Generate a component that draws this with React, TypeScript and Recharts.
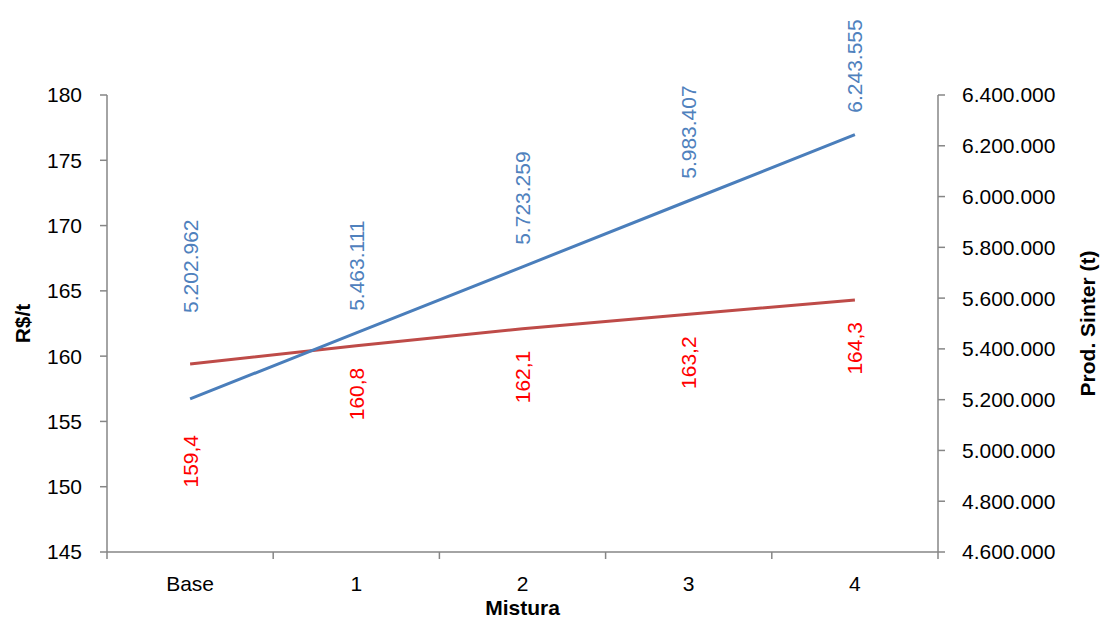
import React from 'react';
import { ComposedChart, Line, XAxis, YAxis, LabelList } from 'recharts';

const categories = ['Base', '1', '2', '3', '4'];
const custoRt = [159.4, 160.8, 162.1, 163.2, 164.3];
const prodSinter = [5202962, 5463111, 5723259, 5983407, 6243555];
const leftTicks = [145, 150, 155, 160, 165, 170, 175, 180];
const rightTicks = [4600000, 4800000, 5000000, 5200000, 5400000, 5600000, 5800000, 6000000, 6200000, 6400000];

// pos = category centre on the numeric grid axis (0..5 bands)
const data = categories.map((name, i) => ({ name, pos: i + 0.5, custo: custoRt[i], prod: prodSinter[i] }));

const font = "'Liberation Sans', Arial, sans-serif";
const axisColor = '#868686';
const tickStyle = { fill: '#000', fontSize: 21, fontFamily: font };

function fmtThousands(n: number): string {
  return String(Math.round(n)).replace(/\B(?=(\d{3})+(?!\d))/g, '.');
}

function fmtDecimal(n: number): string {
  return n.toFixed(1).replace('.', ',');
}

// Excel places rotated labels; first one sits further from its point
const renderBlue = (props: any) => {
  const { x, y, value, index } = props;
  const gap = index === 0 ? 86 : 22;
  const ty = y - gap;
  return (
    <text x={x} y={ty} transform={`rotate(-90, ${x}, ${ty})`} textAnchor="start" dominantBaseline="central"
      fill="#4F81BD" fontSize={21} fontFamily={font}>
      {fmtThousands(value)}
    </text>
  );
};

const renderRed = (props: any) => {
  const { x, y, value, index } = props;
  const gap = index === 0 ? 71 : 22;
  const ty = y + gap;
  return (
    <text x={x} y={ty} transform={`rotate(-90, ${x}, ${ty})`} textAnchor="end" dominantBaseline="central"
      fill="#FF0000" fontSize={21} fontFamily={font}>
      {fmtDecimal(value)}
    </text>
  );
};

export default function App() {
  return (
    <div style={{ position: 'absolute', left: 0, top: 0, background: '#fff' }}>
      <ComposedChart width={1103} height={618} data={data} margin={{ top: 95, right: 0, bottom: 0, left: 0 }}>
        <XAxis
          xAxisId="axisB"
          dataKey="name"
          scale="band"
          height={65}
          axisLine={false}
          tickLine={false}
          tickSize={0}
          tickMargin={23}
          tick={tickStyle}
          interval={0}
          label={{ value: 'Mistura', position: 'insideBottom', offset: 3, fill: '#000', fontSize: 21, fontWeight: 'bold', fontFamily: font }}
        />
        <XAxis
          xAxisId="axisA"
          dataKey="pos"
          type="number"
          domain={[0, 5]}
          ticks={[0, 1, 2, 3, 4, 5]}
          interval={0}
          height={1}
          tickFormatter={() => ''}
          tickSize={7}
          tickLine={{ stroke: axisColor, strokeWidth: 1.5 }}
          stroke={axisColor}
          strokeWidth={1.5}
          allowDataOverflow
        />
        <YAxis
          yAxisId="left"
          orientation="left"
          width={107}
          domain={[145, 180]}
          ticks={leftTicks}
          tick={tickStyle}
          tickSize={7}
          tickMargin={18}
          stroke={axisColor}
          strokeWidth={1.5}
          allowDataOverflow
          label={{ value: 'R$/t', angle: -90, position: 'center', dx: -31, fill: '#000', fontSize: 21, fontWeight: 'bold', fontFamily: font }}
        />
        <YAxis
          yAxisId="right"
          orientation="right"
          width={165}
          domain={[4600000, 6400000]}
          ticks={rightTicks}
          tick={tickStyle}
          tickFormatter={(v: number) => fmtThousands(v)}
          tickSize={7}
          tickMargin={17}
          stroke={axisColor}
          strokeWidth={1.5}
          allowDataOverflow
          label={{ value: 'Prod. Sinter (t)', angle: -90, position: 'center', dx: 67, fill: '#000', fontSize: 21, fontWeight: 'bold', fontFamily: font }}
        />
        <Line
          xAxisId="axisB"
          yAxisId="left"
          dataKey="custo"
          stroke="#BE4B48"
          strokeWidth={3}
          dot={false}
          isAnimationActive={false}
        >
          <LabelList dataKey="custo" content={renderRed} />
        </Line>
        <Line
          xAxisId="axisA"
          yAxisId="right"
          dataKey="prod"
          stroke="#4A7EBB"
          strokeWidth={3}
          dot={false}
          isAnimationActive={false}
        >
          <LabelList dataKey="prod" content={renderBlue} />
        </Line>
      </ComposedChart>
    </div>
  );
}
